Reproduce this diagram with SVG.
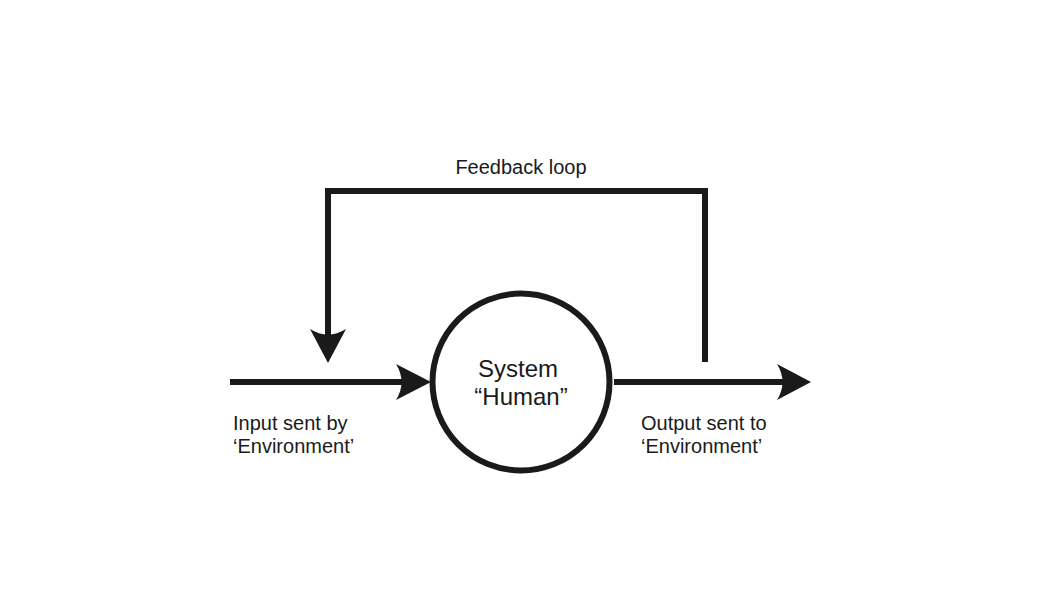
<svg xmlns="http://www.w3.org/2000/svg" width="1042" height="616" viewBox="0 0 1042 616">
<style>
.ln{fill:none;stroke:#1a1a1a;stroke-width:6;}
.ah{fill:#1a1a1a;}
.t{font-family:"Liberation Sans",Arial,sans-serif;font-size:20px;fill:#1a1a1a;}
.tc{font-family:"Liberation Sans",Arial,sans-serif;font-size:24px;fill:#1a1a1a;text-anchor:middle;}
</style>
<rect width="1042" height="616" fill="#ffffff"/>
<g id="connectors">
<path class="ln" d="M230,382 H402"/>
<path class="ah" d="M431,382 L396,364 Q407,382 396,400 Z"/>
<path class="ln" d="M614,382 H785"/>
<path class="ah" d="M811,382 L777,364 Q788,382 777,400 Z"/>
<path class="ln" d="M705,362 V191 H328 V336"/>
<path class="ah" d="M328,363 L310,329 Q328,340 346,329 Z"/>
<text class="t" x="521" y="174" text-anchor="middle">Feedback loop</text>
</g>
<g id="system">
<circle cx="521" cy="382" r="88.5" fill="#ffffff" stroke="#1a1a1a" stroke-width="6"/>
<text class="tc" x="518" y="377">System</text>
<text class="tc" x="521" y="405">“Human”</text>
</g>
<g id="input-label">
<text class="t" x="233" y="430">Input sent by</text>
<text class="t" x="233" y="453">‘Environment’</text>
</g>
<g id="output-label">
<text class="t" x="641" y="430">Output sent to</text>
<text class="t" x="641" y="453">‘Environment’</text>
</g>
</svg>
